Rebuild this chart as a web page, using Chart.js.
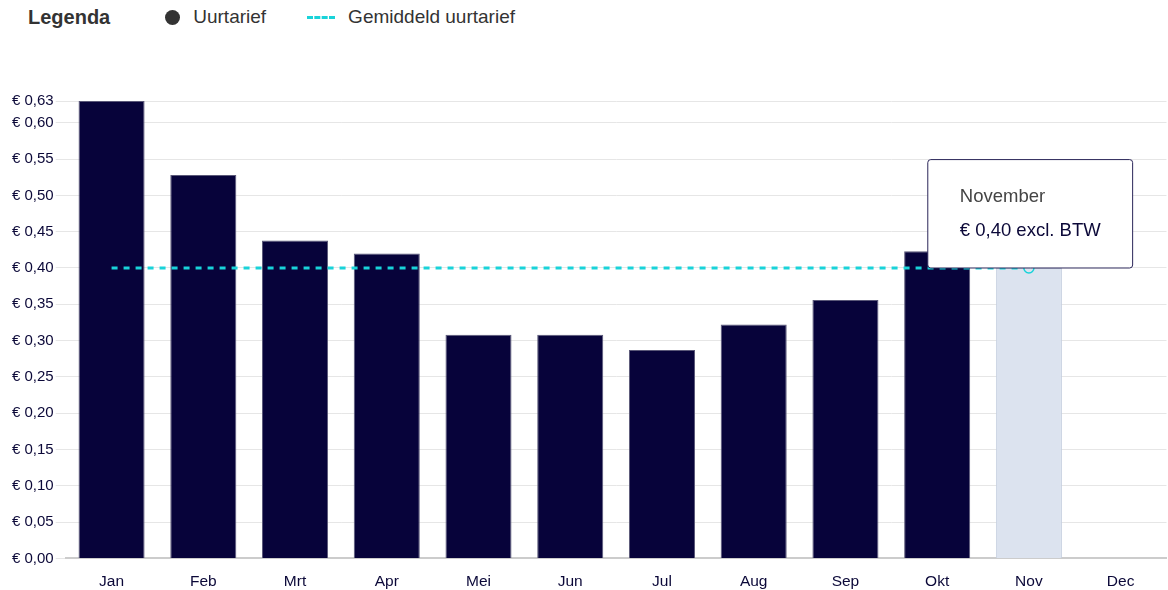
<!DOCTYPE html>
<html>
<head>
<meta charset="utf-8">
<script src="https://cdn.jsdelivr.net/npm/chart.js@4"></script>
<style>
  html, body { margin: 0; padding: 0; background: #fff; }
  body { width: 1168px; height: 590px; position: relative; overflow: hidden;
         font-family: "Liberation Sans", Arial, sans-serif; }
  .legend { position: absolute; left: 28px; top: 4px; height: 26px; display: flex; align-items: center;
            font-size: 19px; color: #333; }
  .legend b { font-size: 20px; margin-right: 55px; }
  .dot { width: 15px; height: 15px; border-radius: 50%; background: #333; margin-right: 13px; }
  .dash { width: 28px; height: 0; border-top: 3px dashed #19d3d9; margin: 0 13px 0 41px; }
  #wrap { position: absolute; left: 0; top: 0; width: 1168px; height: 590px; }
</style>
</head>
<body>
<div class="legend"><b>Legenda</b><span class="dot"></span><span>Uurtarief</span><span class="dash"></span><span>Gemiddeld uurtarief</span></div>
<div id="wrap"><canvas id="tarief_chart"></canvas></div>
<script>
const months = ['Jan', 'Feb', 'Mrt', 'Apr', 'Mei', 'Jun', 'Jul', 'Aug', 'Sep', 'Okt', 'Nov', 'Dec'];
const monthNames = ['Januari', 'Februari', 'Maart', 'April', 'Mei', 'Juni', 'Juli', 'Augustus', 'September', 'Oktober', 'November', 'December'];
const uurtarief = [0.63, 0.528, 0.438, 0.42, 0.308, 0.308, 0.287, 0.322, 0.356, 0.423, 0.40, null];
const gemiddeld = [0.40, 0.40, 0.40, 0.40, 0.40, 0.40, 0.40, 0.40, 0.40, 0.40, 0.40, null];
const currentMonth = 10;
const yMax = 0.63;

const euro = v => '€ ' + Number(v).toFixed(2).replace('.', ',');
const font = "'Liberation Sans', Arial, sans-serif";

const chart = new Chart(document.getElementById('tarief_chart'), {
  data: {
    labels: months,
    datasets: [
      {
        type: 'line',
        label: 'Gemiddeld uurtarief',
        data: gemiddeld,
        borderColor: '#19d3d9',
        borderWidth: 3,
        borderDash: [6, 6],
        pointRadius: months.map((m, i) => i === currentMonth ? 5 : 0),
        pointBackgroundColor: '#dce3ef',
        pointBorderColor: '#19d3d9',
        pointBorderWidth: 1.5,
        order: 0
      },
      {
        type: 'bar',
        label: 'Uurtarief',
        data: uurtarief,
        backgroundColor: months.map((m, i) => i === currentMonth ? '#dce3ef' : '#07033a'),
        borderColor: months.map((m, i) => i === currentMonth ? '#c6cfe0' : '#5a5878'),
        borderWidth: 1,
        order: 1
      }
    ]
  },
  options: {
    responsive: true,
    maintainAspectRatio: false,
    animation: false,
    events: [],
    layout: { padding: { top: 101, left: 10, right: 0, bottom: -7 } },
    scales: {
      x: {
        grid: { display: false },
        border: { color: '#cccccc', width: 2 },
        ticks: { color: '#0b0838', font: { family: font, size: 15.5 }, padding: 6 }
      },
      y: {
        min: 0,
        max: yMax,
        grid: { color: '#e6e6e6', tickLength: 10 },
        border: { display: false },
        ticks: {
          stepSize: 0.05,
          padding: 2,
          color: '#0b0838',
          font: { family: font, size: 15 },
          callback: v => euro(v)
        }
      }
    },
    plugins: {
      legend: { display: false },
      tooltip: {
        backgroundColor: '#ffffff',
        borderColor: '#2a2558',
        borderWidth: 1,
        cornerRadius: 3,
        caretSize: 0,
        caretPadding: 0,
        xAlign: 'center',
        yAlign: 'bottom',
        displayColors: false,
        padding: { top: 26, bottom: 26, left: 32, right: 32 },
        titleColor: '#444444',
        titleFont: { family: font, size: 18.5, weight: 'normal' },
        titleMarginBottom: 12,
        bodyColor: '#0b0838',
        bodyFont: { family: font, size: 18.5 },
        callbacks: {
          title: items => monthNames[items[0].dataIndex],
          label: item => euro(item.raw) + ' excl. BTW'
        }
      }
    }
  }
});

chart.tooltip.setActiveElements([{ datasetIndex: 0, index: currentMonth }], { x: 0, y: 0 });
chart.update();
</script>
</body>
</html>
